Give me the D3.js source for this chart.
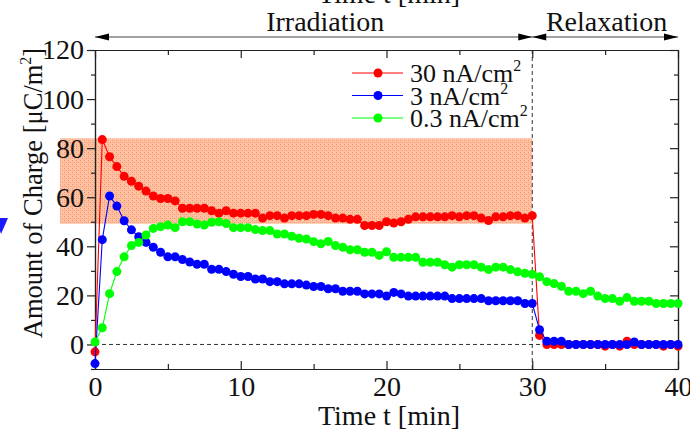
<!DOCTYPE html>
<html>
<head>
<meta charset="utf-8">
<script src="https://cdn.jsdelivr.net/npm/d3@7"></script>
<style>
  body { margin: 0; background: #fff; }
  svg { display: block; }
  text { font-family: "Liberation Serif", "Times New Roman", serif; fill: #111; }
</style>
</head>
<body>
<div class="main"></div>
<script>
//sample times [min]
var times = [0,0.5,1,1.5,2,2.5,3,3.5,4,4.5,5,5.5,6,6.5,7,7.5,8,8.5,9,9.5,
  10,10.5,11,11.5,12,12.5,13,13.5,14,14.5,15,15.5,16,16.5,17,17.5,18,18.5,19,19.5,
  20,20.5,21,21.5,22,22.5,23,23.5,24,24.5,25,25.5,26,26.5,27,27.5,28,28.5,29,29.5,
  30,30.5,31,31.5,32,32.5,33,33.5,34,34.5,35,35.5,36,36.5,37,37.5,38,38.5,39,39.5,40];

//amount of charge [uC/m2] for each current density
var red30 = [-3,83.5,76.5,72.5,68.5,66.5,64.5,62.5,60.5,59.5,
  59.5,58.5,55.5,55.5,55.5,55.5,54.5,53.5,54.5,53.5,
  53.5,53.5,53.5,51.5,52.5,52.5,51.5,52.5,52.5,52.5,
  53,53,52.5,51.5,51.5,51,51,48.5,48.5,48.5,
  50,49.5,50,51,52,52,52,52,52,52.5,
  52,52.5,52.5,51.5,50.5,52,52,52.5,52.5,51.5,
  52.5,3.7,0,0,0,0,0,0,0,0,
  -0.7,0,-0.7,1.3,0,0,0,0,-0.7,0,-0.7];
var blue3 = [-7.8,42.7,60.5,56.4,50.4,46.7,43.9,41.6,39.6,37.6,
  35.7,35.7,34.6,33.6,32.7,32.7,30.6,30.6,29.7,28.6,
  27.7,27.7,26.7,26.7,25.6,25.6,24.7,24.7,24.7,24.2,
  23.6,23.6,22.7,22.7,21.7,21.7,21.7,20.6,20.6,20.6,
  19.7,21.2,20.6,19.7,19.7,19.7,19.7,19.7,19.7,18.7,
  18.7,18.7,18.7,18.7,17.8,17.8,17.8,17.8,17.8,16.7,
  16.7,6,1.3,1.3,1.3,0,0,0,0,0,
  0,0,0,0,1,0,0,0,0,0,0];
var green03 = [1,6.8,20.7,29.7,35.7,40.3,41.6,44.6,47.3,48,
  48.7,47.6,50,50,49.1,48.7,49.8,50,49.3,47.6,
  47.6,47.6,46.8,46.4,46.4,45,45,44.1,43.3,43,
  41.9,41,42,40.3,39.6,38.6,38.6,37.6,37.6,36.3,
  37.8,35.5,35.5,35.5,35.5,33.5,33.5,33.5,32.5,31.5,
  32.5,32.5,32.5,31.5,30.5,31.5,31.5,30.5,29.6,29,
  28.6,27.6,25.6,24.8,23.7,21.7,21.7,20.7,21.7,19.7,
  18.7,18.7,17.6,19.1,17.6,17.6,17.6,16.7,16.7,16.7,16.7];

var seriesNames = ["30 nA/cm", "3 nA/cm", "0.3 nA/cm"];
var seriesColors = ["#ff0000", "#0000ff", "#00ff00"];

//shaded band and phases
var bandX = [-2.4, 30];
var bandY = [49.2, 84];
var phases = [{name: "Irradiation", from: 0, to: 30, labelAt: 15.8},
              {name: "Relaxation", from: 30, to: 40, labelAt: 35.1}];

var width = 690, height = 432;
var svg = d3.select(".main").append("svg")
  .attr("width", width)
  .attr("height", height);

var xScale = d3.scaleLinear().domain([0, 40]).range([95, 678]);
var yScale = d3.scaleLinear().domain([-10, 120]).range([369, 50]);

//dotted salmon texture for the band
var pat = svg.append("defs").append("pattern")
  .attr("id", "dots")
  .attr("width", 4).attr("height", 4)
  .attr("patternUnits", "userSpaceOnUse");
pat.append("rect").attr("width", 4).attr("height", 4).attr("fill", "#ffc1a2");
pat.append("rect").attr("x", 0).attr("y", 0).attr("width", 1).attr("height", 1).attr("fill", "#f4976f");
pat.append("rect").attr("x", 2).attr("y", 2).attr("width", 1).attr("height", 1).attr("fill", "#f4976f");
pat.append("rect").attr("x", 0).attr("y", 2).attr("width", 1).attr("height", 1).attr("fill", "#f7a884");

svg.append("rect")
  .attr("x", xScale(bandX[0]))
  .attr("y", yScale(bandY[1]))
  .attr("width", xScale(bandX[1]) - xScale(bandX[0]))
  .attr("height", yScale(bandY[0]) - yScale(bandY[1]))
  .attr("fill", "url(#dots)");

//blue marker partly cut at the left edge
svg.append("path")
  .attr("d", "M-4,218L8,218L1,234Z")
  .attr("fill", "#1a1aff");

//dashed reference lines
svg.append("line")
  .attr("x1", xScale(0)).attr("x2", xScale(40))
  .attr("y1", yScale(0)).attr("y2", yScale(0))
  .attr("stroke", "#333").attr("stroke-dasharray", "4,3");
svg.append("line")
  .attr("x1", xScale(30)).attr("x2", xScale(30))
  .attr("y1", yScale(120)).attr("y2", yScale(-10))
  .attr("stroke", "#333").attr("stroke-dasharray", "4,3");

//axes
var fontSize = "28px";
var leftAxis = d3.axisLeft(yScale).tickValues([0, 20, 40, 60, 80, 100, 120]).tickSize(8).tickSizeOuter(0).tickPadding(3);
var leftMinor = d3.axisLeft(yScale).tickValues([-10, 10, 30, 50, 70, 90, 110]).tickSize(4).tickSizeOuter(0).tickFormat("");
var rightAxis = d3.axisRight(yScale).tickValues([0, 20, 40, 60, 80, 100, 120]).tickSize(-8).tickSizeOuter(0).tickFormat("");
var rightMinor = d3.axisRight(yScale).tickValues([-10, 10, 30, 50, 70, 90, 110]).tickSize(-4).tickSizeOuter(0).tickFormat("");
var bottomAxis = d3.axisBottom(xScale).tickValues([0, 10, 20, 30, 40]).tickSize(-8).tickSizeOuter(0).tickPadding(7);
var bottomMinor = d3.axisBottom(xScale).tickValues([5, 15, 25, 35]).tickSize(-5).tickSizeOuter(0).tickFormat("");
var topAxis = d3.axisTop(xScale).tickValues([0, 10, 20, 30, 40]).tickSize(-8).tickSizeOuter(0).tickFormat("");
var topMinor = d3.axisTop(xScale).tickValues([5, 15, 25, 35]).tickSize(-5).tickSizeOuter(0).tickFormat("");

function addAxis(axis, tx, ty) {
  var g = svg.append("g")
    .attr("transform", "translate(" + tx + "," + ty + ")")
    .call(axis);
  g.selectAll("path, line").attr("stroke", "#222").attr("stroke-width", 1.2);
  g.selectAll("text").style("font-family", "Liberation Serif").style("font-size", fontSize).attr("fill", "#111");
  return g;
}
addAxis(leftAxis, xScale(0), 0);
addAxis(leftMinor, xScale(0), 0);
addAxis(rightAxis, xScale(40), 0);
addAxis(rightMinor, xScale(40), 0);
addAxis(bottomAxis, 0, yScale(-10));
addAxis(bottomMinor, 0, yScale(-10));
addAxis(topAxis, 0, yScale(120));
addAxis(topMinor, 0, yScale(120));

//series lines and markers
var allSeries = [red30, blue3, green03];
var lineFunc = d3.line()
  .x(function(d, i) { return xScale(times[i]); })
  .y(function(d) { return yScale(d); });

allSeries.forEach(function(values, s) {
  var g = svg.append("g").attr("class", "series");
  g.append("path")
    .attr("d", lineFunc(values))
    .attr("fill", "none")
    .attr("stroke", seriesColors[s])
    .attr("stroke-width", 1.1);
  g.selectAll("circle")
    .data(values)
    .enter()
    .append("circle")
    .attr("cx", function(d, i) { return xScale(times[i]); })
    .attr("cy", function(d) { return yScale(d); })
    .attr("r", 4.5)
    .attr("fill", seriesColors[s]);
});

//legend
var legend = svg.append("g").attr("transform", "translate(352,73)");
seriesNames.forEach(function(name, i) {
  var row = legend.append("g").attr("transform", "translate(0," + (i * 22.5) + ")");
  row.append("line").attr("x1", 0).attr("x2", 51).attr("y1", 0).attr("y2", 0)
    .attr("stroke", seriesColors[i]).attr("stroke-width", 1.1);
  row.append("circle").attr("cx", 26).attr("cy", 0).attr("r", 4.5).attr("fill", seriesColors[i]);
  var t = row.append("text").attr("x", 58).attr("y", 9).style("font-size", "26px");
  t.append("tspan").text(name);
  t.append("tspan").attr("dy", -11).style("font-size", "16px").text("2");
});

//phase arrows
var arrowY = 37;
function arrowHead(x, dir) {
  //dir = 1 points right, -1 points left
  return "M" + x + "," + arrowY + "L" + (x - dir * 14) + "," + (arrowY - 3.5) + "L" + (x - dir * 14) + "," + (arrowY + 3.5) + "Z";
}
phases.forEach(function(p) {
  var x1 = xScale(p.from), x2 = xScale(p.to);
  svg.append("line").attr("x1", x1).attr("x2", x2).attr("y1", arrowY).attr("y2", arrowY)
    .attr("stroke", "#444").attr("stroke-width", 1.2);
  svg.append("path").attr("d", arrowHead(x1, -1)).attr("fill", "#000");
  svg.append("path").attr("d", arrowHead(x2, 1)).attr("fill", "#000");
  svg.append("text")
    .attr("x", xScale(p.labelAt)).attr("y", 31)
    .attr("text-anchor", "middle")
    .style("font-size", "28px")
    .text(p.name);
});

//axis titles
svg.append("text")
  .attr("x", 389).attr("y", 425)
  .attr("text-anchor", "middle")
  .style("font-size", "28px")
  .text("Time t [min]");
//cut-off duplicate title at the very top
svg.append("text")
  .attr("x", 389).attr("y", 3)
  .attr("text-anchor", "middle")
  .style("font-size", "28px")
  .text("Time t [min]");

var yTitle = svg.append("text")
  .attr("transform", "translate(42,193) rotate(-90)")
  .attr("text-anchor", "middle")
  .style("font-size", "26.5px");
yTitle.append("tspan").text("Amount of Charge [\u03bcC/m");
yTitle.append("tspan").attr("dy", -11).style("font-size", "16px").text("2");
yTitle.append("tspan").attr("dy", 11).text("]");
</script>
</body>
</html>
